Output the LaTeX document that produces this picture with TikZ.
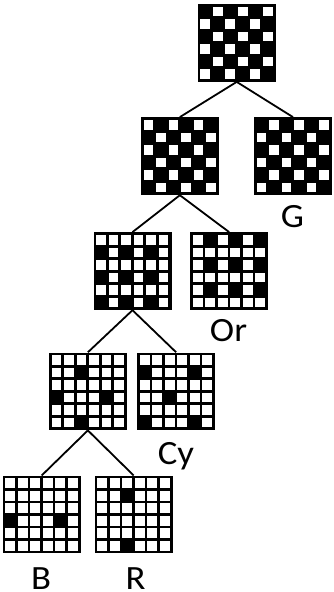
\documentclass[tikz,border=0pt]{standalone}
\usepackage{fontspec}
\setmainfont{Carlito}
\tikzset{
  gridbox/.style={draw=none, fill=black, rectangle, inner sep=0pt, minimum width=78pt, minimum height=77.7pt},
  link/.style={line width=1.8pt, black},
  lbl/.style={anchor=base, inner sep=0pt, font=\fontsize{34}{40}\selectfont}
}
\newcommand\gridcells[2]{%
  \foreach \row [count=\r from 0] in {#2} {
    \foreach \v [count=\c from 0] in \row {
      \ifnum\v=0
        \pgfmathsetmacro\xx{2.95+\c*12.5}
        \pgfmathsetmacro\yy{2.95+\r*12.5}
        \fill[white] ([xshift=\xx pt, yshift=-\yy pt]#1.north west) rectangle ++(9.6pt,-9.6pt);
      \fi
    }
  }
}
\newcommand\wide[1]{\scalebox{1.08}[1]{#1}}
\begin{document}
\begin{tikzpicture}[x=1pt,y=-1pt]
\useasboundingbox (0,0) rectangle (333,592);
\fill[white] (0,0) rectangle (333,592);
% grids
\node[gridbox] (top) at (236.7,42.85) {};
\node[gridbox] (la) at (179.85,156.15) {};
\node[gridbox] (g) at (293,156.15) {};
\node[gridbox] (lb) at (132.5,271.15) {};
\node[gridbox] (or) at (229.15,271.15) {};
\node[gridbox] (lc) at (87.85,391.35) {};
\node[gridbox] (cy) at (176.15,391.35) {};
\node[gridbox] (b) at (41.7,514.5) {};
\node[gridbox] (r) at (133.65,514.5) {};
\gridcells{top}{{1,0,1,0,1,0},{0,1,0,1,0,1},{1,0,1,0,1,0},{0,1,0,1,0,1},{1,0,1,0,1,0},{0,1,0,1,0,1}}
\gridcells{la}{{0,1,0,1,0,1},{1,0,1,0,1,0},{0,1,0,1,0,1},{1,0,1,0,1,0},{0,1,0,1,0,1},{1,0,1,0,1,0}}
\gridcells{g}{{1,0,1,0,1,0},{0,1,0,1,0,1},{1,0,1,0,1,0},{0,1,0,1,0,1},{1,0,1,0,1,0},{0,1,0,1,0,1}}
\gridcells{lb}{{0,0,0,0,0,0},{1,0,1,0,1,0},{0,0,0,0,0,0},{1,0,1,0,1,0},{0,0,0,0,0,0},{1,0,1,0,1,0}}
\gridcells{or}{{0,1,0,1,0,1},{0,0,0,0,0,0},{0,1,0,1,0,1},{0,0,0,0,0,0},{0,1,0,1,0,1},{0,0,0,0,0,0}}
\gridcells{lc}{{0,0,0,0,0,0},{0,0,1,0,0,0},{0,0,0,0,0,0},{1,0,0,0,1,0},{0,0,0,0,0,0},{0,0,1,0,0,0}}
\gridcells{cy}{{0,0,0,0,0,0},{1,0,0,0,1,0},{0,0,0,0,0,0},{0,0,1,0,0,0},{0,0,0,0,0,0},{1,0,0,0,1,0}}
\gridcells{b}{{0,0,0,0,0,0},{0,0,0,0,0,0},{0,0,0,0,0,0},{1,0,0,0,1,0},{0,0,0,0,0,0},{0,0,0,0,0,0}}
\gridcells{r}{{0,0,0,0,0,0},{0,0,1,0,0,0},{0,0,0,0,0,0},{0,0,0,0,0,0},{0,0,0,0,0,0},{0,0,1,0,0,0}}
% connectors
\draw[link] (top.south) -- (la.north);
\draw[link] (top.south) -- (g.north);
\draw[link] (la.south) -- (lb.north);
\draw[link] (la.south) -- (or.north);
\draw[link] (lb.south) -- (lc.north);
\draw[link] (lb.south) -- (cy.north);
\draw[link] (lc.south) -- (b.north);
\draw[link] (lc.south) -- (r.north);
% labels
\node[lbl] (tg) at (292.5,227.5) {\wide{G}};
\node[lbl] (tor) at (228.5,341) {\wide{Or}};
\node[lbl] (tcy) at (176,464) {\wide{Cy}};
\node[lbl, text depth=0pt] (tb) at (41,589) {\wide{B}};
\node[lbl, text depth=0pt] (tr) at (135.5,589) {\wide{R}};
\end{tikzpicture}
\end{document}
